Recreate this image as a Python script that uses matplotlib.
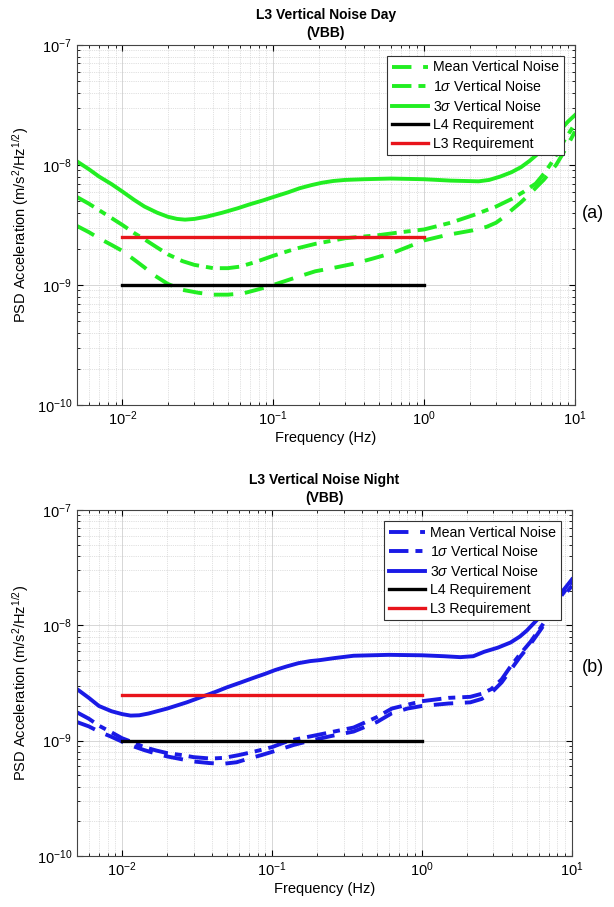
import matplotlib
matplotlib.use("Agg")
import matplotlib.pyplot as plt
from matplotlib.ticker import LogLocator, NullFormatter

plt.rcParams['font.family'] = ['Liberation Sans', 'DejaVu Sans']
plt.rcParams['mathtext.fontset'] = 'custom'
plt.rcParams['mathtext.rm'] = 'Liberation Sans'
plt.rcParams['mathtext.it'] = 'Liberation Sans:italic'

# frequency axis range and requirement lines
freq_range = (5e-3, 10)
psd_range = (1e-10, 1e-7)
x_major = [1e-2, 1e-1, 1e0, 1e1]
y_major = [1e-10, 1e-9, 1e-8, 1e-7]
req_freq = [1e-2, 1e0]
l4_req = [1e-9, 1e-9]
l3_req = [2.5e-9, 2.5e-9]

# day (a)
day_mean_f = [0.005, 0.006, 0.007, 0.0085, 0.01, 0.012, 0.014, 0.016, 0.02, 0.025, 0.032, 0.04, 0.05,
              0.063, 0.08, 0.1, 0.14, 0.19, 0.26, 0.34, 0.45, 0.62, 0.8, 1.0, 1.4, 2.1, 2.6, 3.0, 3.4,
              3.8, 4.4, 5.0, 5.6, 6.2, 7.5, 8.8, 10]
day_mean_v = [3.1e-9, 2.75e-9, 2.45e-9, 2.15e-9, 1.92e-9, 1.62e-9, 1.4e-9, 1.22e-9, 1.02e-9, 9.1e-10,
              8.6e-10, 8.3e-10, 8.3e-10, 8.5e-10, 9.2e-10, 1.0e-9, 1.15e-9, 1.3e-9, 1.4e-9, 1.5e-9,
              1.65e-9, 1.85e-9, 2.1e-9, 2.35e-9, 2.6e-9, 2.85e-9, 3.05e-9, 3.3e-9, 3.7e-9, 4.2e-9,
              4.9e-9, 5.7e-9, 6.6e-9, 7.5e-9, 1.0e-8, 1.4e-8, 1.9e-8]

day_1s_f = [0.005, 0.006, 0.007, 0.0085, 0.01, 0.012, 0.014, 0.017, 0.02, 0.025, 0.03, 0.04, 0.05, 0.06,
            0.076, 0.1, 0.14, 0.19, 0.3, 0.5, 0.7, 1.0, 1.5, 2.1, 3.0, 3.8, 4.6, 5.5, 6.3, 7.2, 8.5, 10]
day_1s_v = [5.4e-9, 4.75e-9, 4.2e-9, 3.6e-9, 3.16e-9, 2.7e-9, 2.4e-9, 2.05e-9, 1.8e-9, 1.58e-9, 1.47e-9,
            1.38e-9, 1.38e-9, 1.42e-9, 1.55e-9, 1.75e-9, 2.0e-9, 2.2e-9, 2.45e-9, 2.6e-9, 2.75e-9,
            2.9e-9, 3.3e-9, 3.8e-9, 4.5e-9, 5.2e-9, 6.0e-9, 7.0e-9, 8.6e-9, 1.1e-8, 1.6e-8, 2.2e-8]

day_3s_f = [0.005, 0.006, 0.007, 0.0085, 0.01, 0.012, 0.014, 0.017, 0.02, 0.023, 0.026, 0.03, 0.036,
            0.046, 0.058, 0.07, 0.085, 0.1, 0.125, 0.15, 0.18, 0.21, 0.25, 0.3, 0.4, 0.6, 1.0, 1.5,
            2.3, 2.7, 3.2, 3.8, 4.4, 5.0, 5.6, 6.2, 7.0, 8.0, 9.0, 10]
day_3s_v = [1.07e-8, 9.2e-9, 8.0e-9, 6.9e-9, 6.0e-9, 5.1e-9, 4.5e-9, 4.0e-9, 3.7e-9, 3.55e-9, 3.5e-9,
            3.55e-9, 3.7e-9, 4.0e-9, 4.35e-9, 4.7e-9, 5.05e-9, 5.4e-9, 5.9e-9, 6.4e-9, 6.8e-9, 7.1e-9,
            7.35e-9, 7.5e-9, 7.6e-9, 7.7e-9, 7.6e-9, 7.4e-9, 7.3e-9, 7.5e-9, 8.0e-9, 8.7e-9, 9.6e-9,
            1.08e-8, 1.22e-8, 1.4e-8, 1.62e-8, 1.95e-8, 2.3e-8, 2.6e-8]

# night (b)
night_mean_f = [0.005, 0.006, 0.007, 0.0085, 0.01, 0.012, 0.014, 0.017, 0.02, 0.025, 0.03, 0.038, 0.047,
                0.058, 0.07, 0.085, 0.1, 0.14, 0.18, 0.25, 0.35, 0.5, 0.63, 0.8, 1.0, 1.5, 2.1, 2.5,
                2.9, 3.4, 3.9, 4.5, 5.3, 6.2, 7.2, 8.5, 10]
night_mean_v = [1.45e-9, 1.33e-9, 1.2e-9, 1.08e-9, 9.8e-10, 8.9e-10, 8.3e-10, 7.7e-10, 7.3e-10, 6.9e-10,
                6.6e-10, 6.4e-10, 6.3e-10, 6.5e-10, 7.0e-10, 7.5e-10, 8.0e-10, 9.2e-10, 1.0e-9, 1.1e-9,
                1.2e-9, 1.45e-9, 1.73e-9, 1.9e-9, 2.0e-9, 2.1e-9, 2.15e-9, 2.3e-9, 2.6e-9, 3.2e-9,
                4.1e-9, 5.3e-9, 6.9e-9, 9.2e-9, 1.23e-8, 1.7e-8, 2.2e-8]

night_1s_f = [0.005, 0.006, 0.007, 0.0085, 0.01, 0.012, 0.014, 0.017, 0.02, 0.025, 0.03, 0.039, 0.048,
              0.06, 0.075, 0.1, 0.13, 0.2, 0.35, 0.5, 0.63, 0.8, 1.0, 1.5, 2.1, 2.5, 2.9, 3.4, 3.9, 4.5,
              5.3, 6.2, 7.2, 8.5, 10]
night_1s_v = [1.76e-9, 1.55e-9, 1.35e-9, 1.18e-9, 1.05e-9, 9.6e-10, 8.8e-10, 8.2e-10, 7.8e-10, 7.5e-10,
              7.2e-10, 7.0e-10, 7.1e-10, 7.5e-10, 8.0e-10, 8.8e-10, 1.0e-9, 1.12e-9, 1.3e-9, 1.6e-9,
              1.9e-9, 2.05e-9, 2.2e-9, 2.35e-9, 2.4e-9, 2.55e-9, 2.8e-9, 3.4e-9, 4.4e-9, 5.6e-9,
              7.2e-9, 9.6e-9, 1.28e-8, 1.8e-8, 2.4e-8]

night_3s_f = [0.005, 0.006, 0.007, 0.0085, 0.01, 0.0114, 0.013, 0.015, 0.02, 0.027, 0.034, 0.042, 0.05,
              0.062, 0.075, 0.09, 0.105, 0.125, 0.15, 0.18, 0.21, 0.26, 0.35, 0.6, 1.0, 1.4, 1.8, 2.2,
              2.6, 3.2, 3.9, 4.5, 5.0, 5.6, 6.3, 7.2, 8.0, 9.0, 10]
night_3s_v = [2.8e-9, 2.35e-9, 2.0e-9, 1.8e-9, 1.7e-9, 1.65e-9, 1.66e-9, 1.72e-9, 1.9e-9, 2.15e-9,
              2.4e-9, 2.65e-9, 2.9e-9, 3.2e-9, 3.5e-9, 3.8e-9, 4.1e-9, 4.4e-9, 4.7e-9, 4.9e-9, 5.0e-9,
              5.2e-9, 5.45e-9, 5.55e-9, 5.5e-9, 5.4e-9, 5.3e-9, 5.4e-9, 5.9e-9, 6.4e-9, 7.1e-9, 8.0e-9,
              9.0e-9, 1.05e-8, 1.23e-8, 1.45e-8, 1.75e-8, 2.1e-8, 2.5e-8]

labels = ['Mean Vertical Noise', r'1$\sigma$ Vertical Noise', r'3$\sigma$ Vertical Noise',
          'L4 Requirement', 'L3 Requirement']

fig = plt.figure(figsize=(6.14, 9.07), dpi=100)
ax1 = fig.add_axes([0.1254, 0.5535, 0.811, 0.397])
ax2 = fig.add_axes([0.1254, 0.0562, 0.806, 0.3815])


def draw_panel(ax, color, mean_f, mean_v, s1_f, s1_v, s3_f, s3_v, title, tag, tag_y):
    ax.plot(mean_f, mean_v, color=color, lw=2.8, dashes=(5, 3), label=labels[0])
    ax.plot(s1_f, s1_v, color=color, lw=2.8, dashes=(5, 1.8, 1.8, 1.8), label=labels[1])
    ax.plot(s3_f, s3_v, color=color, lw=2.8, label=labels[2])
    ax.plot(req_freq, l4_req, color='black', lw=2.4, label=labels[3])
    ax.plot(req_freq, l3_req, color='#e8141b', lw=2.4, label=labels[4])

    ax.set_xscale('log')
    ax.set_yscale('log')
    ax.set_xlim(*freq_range)
    ax.set_ylim(*psd_range)
    ax.set_xticks(x_major)
    ax.set_yticks(y_major)
    ax.xaxis.set_minor_locator(LogLocator(base=10, subs=range(2, 10), numticks=20))
    ax.yaxis.set_minor_locator(LogLocator(base=10, subs=range(2, 10), numticks=20))
    ax.xaxis.set_minor_formatter(NullFormatter())
    ax.yaxis.set_minor_formatter(NullFormatter())
    ax.set_xlim(*freq_range)
    ax.set_ylim(*psd_range)
    ax.grid(True, which='major', color='#d0d0d0', lw=0.6, ls='-')
    ax.grid(True, which='minor', color='#c4c4c4', lw=0.5, ls=':')
    ax.tick_params(which='both', direction='in', top=True, right=True, labelsize=10.5)
    ax.tick_params(which='major', length=4)
    ax.tick_params(which='minor', length=2)
    for sp in ax.spines.values():
        sp.set_linewidth(0.8)
        sp.set_color('#444444')

    ax.set_xlabel('Frequency (Hz)', fontsize=10.5, labelpad=2)
    ax.set_ylabel(r'PSD Acceleration (m/s$^2$/Hz$^{1/2}$)', fontsize=10.5, labelpad=4)
    ax.set_title(title, fontsize=10, fontweight='bold', pad=6, linespacing=1.35)

    leg = ax.legend(loc='upper right', fontsize=10.2, handlelength=2.6, handletextpad=0.35,
                    labelspacing=0.32, borderpad=0.3, borderaxespad=0.8,
                    fancybox=False, framealpha=1, edgecolor='#333333')
    leg.get_frame().set_linewidth(0.8)

    fig.text(0.965, tag_y, tag, fontsize=13, ha='center', va='center')


draw_panel(ax1, '#22ee22', day_mean_f, day_mean_v, day_1s_f, day_1s_v, day_3s_f, day_3s_v,
           'L3 Vertical Noise Day\n(VBB)', '(a)', 1 - 213 / 907)
draw_panel(ax2, '#1a1ae6', night_mean_f, night_mean_v, night_1s_f, night_1s_v, night_3s_f, night_3s_v,
           'L3 Vertical Noise Night\n(VBB)', '(b)', 1 - 668 / 907)

fig.savefig('out.png', dpi=100)
